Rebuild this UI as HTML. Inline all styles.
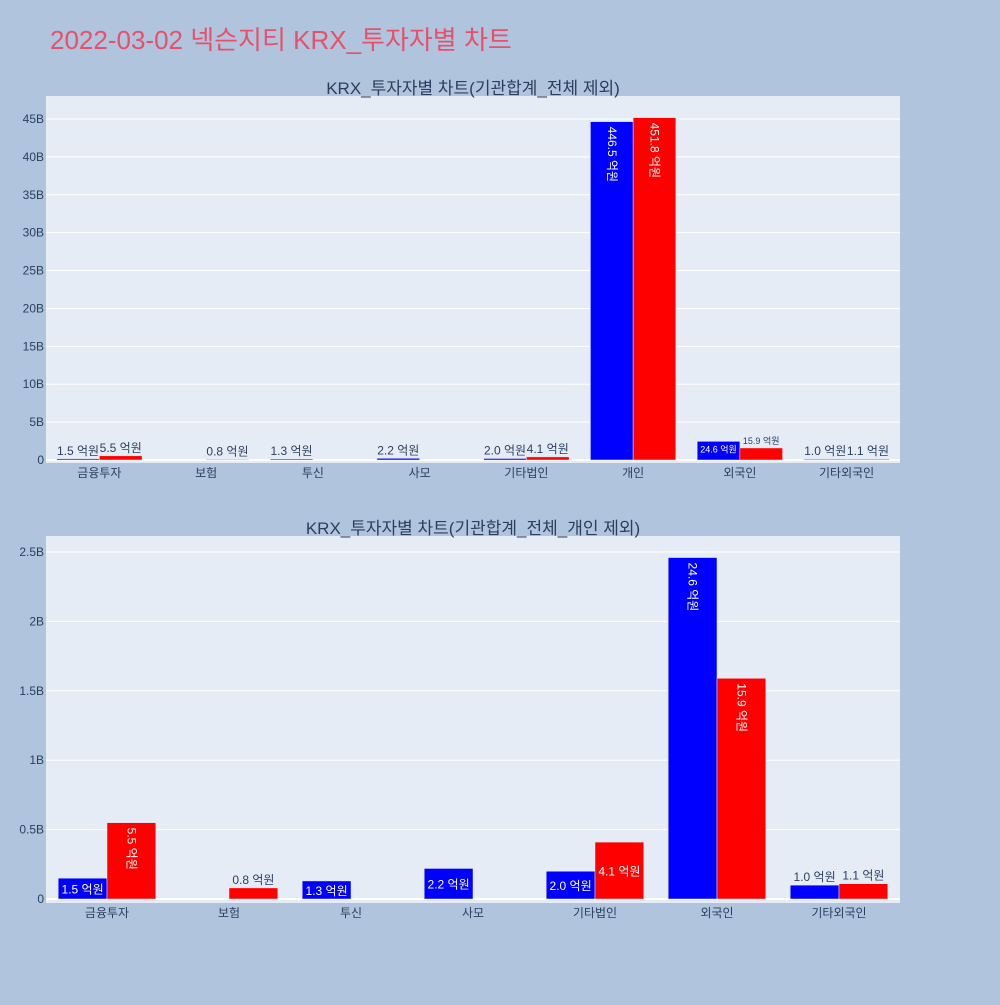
<!DOCTYPE html>
<html><head><meta charset="utf-8">
<style>
body{margin:0;background:#b0c4de;font-family:"Liberation Sans","Noto Sans CJK KR",sans-serif;}
svg text{font-family:"Liberation Sans","Noto Sans CJK KR",sans-serif;}
</style></head>
<body>
<svg id="c" width="1000" height="1000" xmlns="http://www.w3.org/2000/svg">
<rect width="1000" height="1000" fill="#b0c4de"/>
<text x="50" y="49" font-size="26" fill="#e8506a">2022-03-02 넥슨지티 KRX_투자자별 차트</text>
</svg>
<script>
const cats1=["금융투자","보험","투신","사모","기타법인","개인","외국인","기타외국인"];
const buy1=[1.5,0,1.3,2.2,2.0,446.5,24.6,1.0];
const sell1=[5.5,0.8,0,0,4.1,451.8,15.9,1.1];
const ticks1=[0,5,10,15,20,25,30,35,40,45];
const cats2=["금융투자","보험","투신","사모","기타법인","외국인","기타외국인"];
const buy2=[1.5,0,1.3,2.2,2.0,24.6,1.0];
const sell2=[5.5,0.8,0,0,4.1,15.9,1.1];
const ticks2=[0,0.5,1,1.5,2,2.5];
const tickLabels2=["0","0.5B","1B","1.5B","2B","2.5B"];
const svg=document.getElementById('c');
const NS="http://www.w3.org/2000/svg";
function el(tag,attrs,parent){const e=document.createElementNS(NS,tag);for(const k in attrs)e.setAttribute(k,attrs[k]);(parent||svg).appendChild(e);return e;}
function panel(cfg){
  const g=el('g',{});
  
  
  const bg=el('rect',{x:cfg.x0,y:cfg.y0,width:cfg.x1-cfg.x0,height:cfg.y1-cfg.y0,fill:'#e5ecf6'},g);
  
  
  const yS=v=>cfg.zeroY-v*cfg.pxPer;
  const t=el('text',{x:(cfg.x0+cfg.x1)/2,y:cfg.y0-2,'text-anchor':'middle','font-size':17,fill:'#2a3f5f'},g);
  t.textContent=cfg.title;
  
  
  cfg.ticks.forEach((v,i)=>{
    const y=yS(v);
    const l=el('line',{x1:cfg.x0,x2:cfg.x1,y1:y,y2:y,stroke:'#fff','stroke-width':v===0?2:1},g);
    
    
    const tt=el('text',{x:cfg.x0-2,y:y+4,'text-anchor':'end','font-size':12,fill:'#2a3f5f'},g);
    tt.textContent=cfg.tickLabels[i];
    
    
  });
  const n=cfg.cats.length, band=(cfg.x1-cfg.x0)/n, bw=band*0.4;
  cfg.cats.forEach((c,i)=>{
    const cx=cfg.x0+band*(i+0.5);
    const xl=el('text',{x:cx,y:cfg.y1+14,'text-anchor':'middle','font-size':12,fill:'#2a3f5f'},g);
    xl.textContent=c;
    
    
    [[cfg.buy[i],'#0000ff',cx-bw,'buy-bar'],[cfg.sell[i],'#ff0000',cx,'sell-bar']].forEach(([v,col,bx,nm])=>{
      const val=v*1e8/1e9, y=yS(val), h=cfg.zeroY-y;
      const r=el('rect',{x:bx,y:y,width:bw,height:Math.max(h,0),fill:col,stroke:'#e5ecf6','stroke-width':0.5},g);
      
      
      if(v===0)return;
      const lbl=v.toFixed(1)+' 억원';
      const tx=el('text',{fill:'#fff','text-anchor':'middle'},g);
      
      
      tx.textContent=lbl;
      const mx=bx+bw/2;
      if(h>75){
        tx.setAttribute('font-size',12);
        tx.setAttribute('text-anchor','start');
        tx.setAttribute('transform',`translate(${mx-4},${y+5}) rotate(90)`);
      } else if(h>16){
        const fs=bw<44?9:12;
        tx.setAttribute('font-size',fs);
        tx.setAttribute('x',mx);tx.setAttribute('y',y+h/2+fs/2-1);
        if(h<20){tx.setAttribute('y',y+fs+2);}
      } else {
        const fs=(h>10&&bw<44)?9:12;
        tx.setAttribute('font-size',fs);
        tx.setAttribute('fill','#2a3f5f');
        tx.setAttribute('x',mx);tx.setAttribute('y',y-4);
      }
    });
  });
}
panel({name:'chart-total',title:'KRX_투자자별 차트(기관합계_전체 제외)',x0:46,x1:900,y0:96,y1:463,zeroY:460,pxPer:7.578,cats:cats1,buy:buy1,sell:sell1,ticks:ticks1,tickLabels:ticks1.map(v=>v===0?'0':v+'B')});
panel({name:'chart-excl-individual',title:'KRX_투자자별 차트(기관합계_전체_개인 제외)',x0:46,x1:900,y0:536,y1:903,zeroY:899,pxPer:138.8,cats:cats2,buy:buy2,sell:sell2,ticks:ticks2,tickLabels:tickLabels2});
</script>
</body></html>
